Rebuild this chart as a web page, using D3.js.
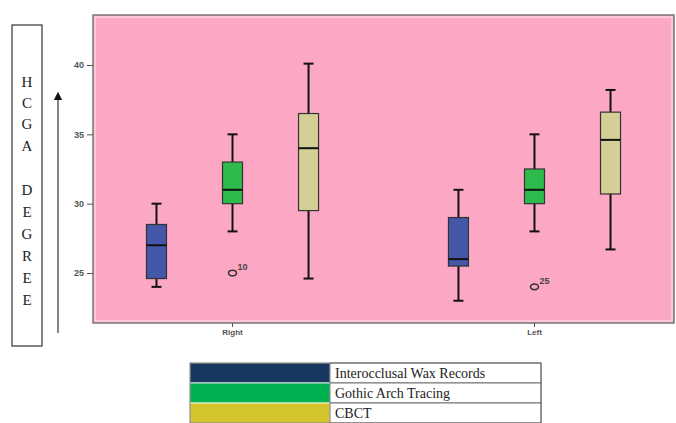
<!DOCTYPE html>
<html>
<head>
    <meta charset="UTF-8">
    <title>HCGA boxplot</title>
    <style>
        body { margin: 0; background: #fff; }
        .tick text { font-family: "Liberation Sans", Arial, sans-serif; font-size: 9px; font-weight: bold; fill: #555; }
        .tick line { stroke: #555; }
        .domain { display: none; }
    </style>
</head>
<body>
<svg width="676" height="423"></svg>
<script src="https://cdn.jsdelivr.net/npm/d3@7"></script>
<script>
    // sides and methods
    var sides = ["Right", "Left"];
    var methods = ["Interocclusal Wax Records", "Gothic Arch Tracing", "CBCT"];
    var yTicks = [25, 30, 35, 40];

    // box stats per side: [min, q1, median, q3, max], in method order
    var rightStats = [
        [24.0, 24.6, 27.0, 28.5, 30.0],
        [28.0, 30.0, 31.0, 33.0, 35.0],
        [24.6, 29.5, 34.0, 36.5, 40.1]
    ];
    var leftStats = [
        [23.0, 25.5, 26.0, 29.0, 31.0],
        [28.0, 30.0, 31.0, 32.5, 35.0],
        [26.7, 30.7, 34.6, 36.6, 38.2]
    ];
    // outliers: side, method index, value, case label
    var outliers = [
        {side: "Right", m: 1, v: 25.0, label: "10"},
        {side: "Left", m: 1, v: 24.0, label: "25"}
    ];

    var boxColors = ["#4457a8", "#2cbb4c", "#d3cf96"];
    var legendColors = ["#17375e", "#00b050", "#d4c52f"];

    var svg = d3.select("svg");
    var plot = {left: 93, top: 15, right: 674, bottom: 323};

    var x = d3.scaleBand().domain(sides).range([plot.left, plot.right]).paddingOuter(0).paddingInner(0.076);
    var xm = d3.scaleBand().domain(d3.range(3)).range([0, x.bandwidth()]).paddingInner(0.4).paddingOuter(0.535);
    var y = d3.scaleLinear().domain([25, 40]).range([273, 65]);

    // frame
    svg.append("rect")
        .attr("x", plot.left).attr("y", plot.top)
        .attr("width", plot.right - plot.left).attr("height", plot.bottom - plot.top)
        .attr("fill", "#fca8c5").attr("stroke", "#777").attr("stroke-width", 1.5);
    svg.append("rect")
        .attr("x", plot.left + 2).attr("y", plot.top + 2)
        .attr("width", plot.right - plot.left - 4).attr("height", plot.bottom - plot.top - 4)
        .attr("fill", "none").attr("stroke", "#fde4ee").attr("stroke-width", 1);

    // axes
    svg.append("g")
        .attr("transform", "translate(" + plot.left + ",0)")
        .call(d3.axisLeft(y).tickValues(yTicks).tickSize(6).tickPadding(3));
    var xa = svg.append("g")
        .attr("transform", "translate(0," + plot.bottom + ")")
        .call(d3.axisBottom(x).tickSize(4).tickPadding(2));
    xa.selectAll("text").style("font-size", "8px");

    var boxW = 20;
    function drawSide(side, stats) {
        var g = svg.append("g").attr("transform", "translate(" + x(side) + ",0)");
        stats.forEach(function (s, i) {
            var cx = xm(i) + xm.bandwidth() / 2;
            var bg = g.append("g");
            // whisker
            bg.append("line")
                .attr("x1", cx).attr("x2", cx).attr("y1", y(s[0])).attr("y2", y(s[4]))
                .attr("stroke", "#111").attr("stroke-width", 2);
            [s[0], s[4]].forEach(function (v) {
                bg.append("line")
                    .attr("x1", cx - 5).attr("x2", cx + 5).attr("y1", y(v)).attr("y2", y(v))
                    .attr("stroke", "#111").attr("stroke-width", 2);
            });
            // box
            bg.append("rect")
                .attr("x", cx - boxW / 2).attr("y", y(s[3]))
                .attr("width", boxW).attr("height", y(s[1]) - y(s[3]))
                .attr("fill", boxColors[i]).attr("stroke", "#333").attr("stroke-width", 1.2);
            bg.append("line")
                .attr("x1", cx - boxW / 2).attr("x2", cx + boxW / 2).attr("y1", y(s[2])).attr("y2", y(s[2]))
                .attr("stroke", "#111").attr("stroke-width", 2);
        });
        outliers.filter(function (o) { return o.side === side; }).forEach(function (o) {
            var cx = xm(o.m) + xm.bandwidth() / 2;
            g.append("ellipse")
                .attr("cx", cx).attr("cy", y(o.v)).attr("rx", 4).attr("ry", 2.8)
                .attr("fill", "none").attr("stroke", "#333").attr("stroke-width", 1.6);
            g.append("text")
                .attr("x", cx + 5).attr("y", y(o.v) - 3)
                .attr("font-family", "Liberation Sans, Arial, sans-serif").attr("font-size", 9)
                .attr("font-weight", "bold").attr("fill", "#444")
                .text(o.label);
        });
    }
    drawSide("Right", rightStats);
    drawSide("Left", leftStats);

    // y title box
    svg.append("rect")
        .attr("x", 12).attr("y", 25).attr("width", 30).attr("height", 321)
        .attr("fill", "#fff").attr("stroke", "#333").attr("stroke-width", 1.2);
    var letters = ["H", "C", "G", "A", "", "D", "E", "G", "R", "E", "E"];
    var letterY = [82, 103, 124, 146, 168, 190, 212, 234, 256, 278, 300];
    svg.append("g").selectAll("text").data(letters).join("text")
        .attr("x", 27).attr("y", function (d, i) { return letterY[i] + 5; })
        .attr("text-anchor", "middle")
        .attr("font-family", "Liberation Serif, Times New Roman, serif").attr("font-size", 15)
        .attr("fill", "#222")
        .text(function (d) { return d; });

    // arrow
    svg.append("defs").append("marker")
        .attr("id", "arr").attr("viewBox", "0 0 10 10").attr("refX", 5).attr("refY", 5)
        .attr("markerWidth", 7).attr("markerHeight", 7).attr("orient", "auto")
        .append("path").attr("d", "M0,0L10,5L0,10z").attr("fill", "#111");
    svg.append("line")
        .attr("x1", 58).attr("x2", 58).attr("y1", 333).attr("y2", 96)
        .attr("stroke", "#333").attr("stroke-width", 1.2).attr("marker-end", "url(#arr)");

    // legend table
    var lg = {x: 190, y: 363, cw: 140, tw: 211, rh: 20};
    var rows = svg.append("g").selectAll("g").data(methods).join("g")
        .attr("transform", function (d, i) { return "translate(" + lg.x + "," + (lg.y + i * lg.rh) + ")"; });
    rows.append("rect")
        .attr("width", lg.cw).attr("height", lg.rh)
        .attr("fill", function (d, i) { return legendColors[i]; })
        .attr("stroke", "#fff").attr("stroke-width", 0.8);
    rows.append("rect")
        .attr("x", lg.cw).attr("width", lg.tw).attr("height", lg.rh)
        .attr("fill", "#fff").attr("stroke", "#555").attr("stroke-width", 0.8);
    rows.append("text")
        .attr("x", lg.cw + 5).attr("y", 15)
        .attr("font-family", "Liberation Serif, Times New Roman, serif").attr("font-size", 14)
        .attr("fill", "#222")
        .text(function (d) { return d; });
    svg.append("rect")
        .attr("x", lg.x).attr("y", lg.y).attr("width", lg.cw + lg.tw).attr("height", lg.rh * 3)
        .attr("fill", "none").attr("stroke", "#555").attr("stroke-width", 0.8);
</script>
</body>
</html>
